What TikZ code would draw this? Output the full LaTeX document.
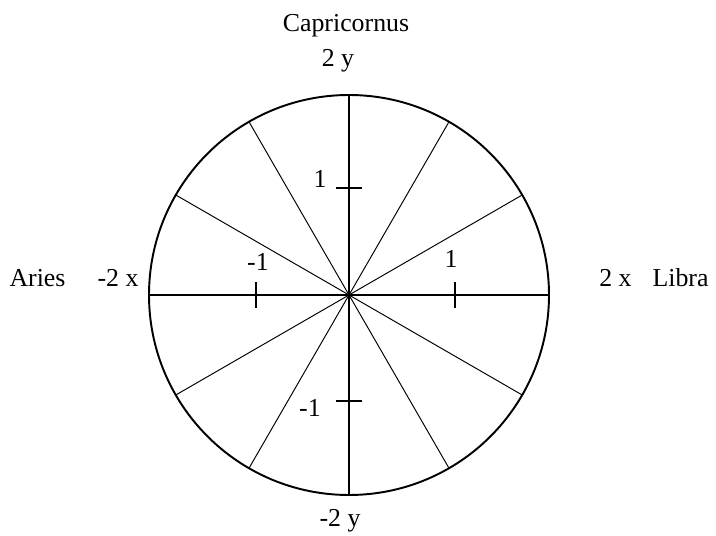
\documentclass[tikz,border=0pt]{standalone}
\usepackage{fontspec}
\setmainfont{Liberation Serif}
\usetikzlibrary{positioning, calc}

\begin{document}
\begin{tikzpicture}[
  x=2cm, y=2cm,
  font=\fontsize{14.7}{17}\selectfont,
  rim/.style={draw=black, line width=1.1pt},
  axis/.style={draw=black, line width=1.1pt},
  spoke/.style={draw=black, line width=0.55pt},
  tick/.style={draw=black, line width=1.1pt},
  lbl/.style={anchor=base, inner sep=0pt}
]
\useasboundingbox (-3.49,-2.41) rectangle (3.67,2.95);

% --- centre and axis ends ---
\coordinate (o) at (0,0);
\coordinate (xl) at (-2,0);
\coordinate (xr) at (2,0);
\coordinate (yt) at (0,2);
\coordinate (yb) at (0,-2);

% --- the twelve sectors ---
\foreach \a in {30,60,120,150,210,240,300,330}
  \draw[spoke] (o) -- (\a:2);
\draw[axis] (xl) -- (xr);
\draw[axis] (yb) -- (yt);
\draw[rim] (o) circle[radius=2];

% --- ticks on the axes ---
\coordinate (tx1) at (-0.93,0);
\coordinate (tx2) at (1.06,0);
\coordinate (ty1) at (0,1.07);
\coordinate (ty2) at (0,-1.06);
\draw[tick] ($(tx1)+(0,-0.13)$) -- ($(tx1)+(0,0.13)$);
\draw[tick] ($(tx2)+(0,-0.13)$) -- ($(tx2)+(0,0.13)$);
\draw[tick] ($(ty1)+(-0.13,0)$) -- ($(ty1)+(0.13,0)$);
\draw[tick] ($(ty2)+(-0.13,0)$) -- ($(ty2)+(0.13,0)$);

% tick labels
\node[lbl] (nx1) at (-0.91,0.24) {-1};
\node[lbl] (nx2) at (1.02,0.27) {1};
\node[lbl] (ny1) at (-0.29,1.07) {1};
\node[lbl] (ny2) at (-0.39,-1.22) {-1};

% --- axis ends and signs ---
\node[lbl] (cap) at (-0.03,2.63) {Capricornus};
\node[lbl] (top) at (-0.11,2.28) {2 y};
\node[lbl] (bot) at (-0.09,-2.32) {-2 y};
\node[lbl] (ari) at (-3.115,0.08) {Aries};
\node[lbl] (lft) at (-2.31,0.08) {-2 x};
\node[lbl] (rgt) at (2.665,0.08) {2 x};
\node[lbl] (lib) at (3.315,0.08) {Libra};

\end{tikzpicture}
\end{document}
